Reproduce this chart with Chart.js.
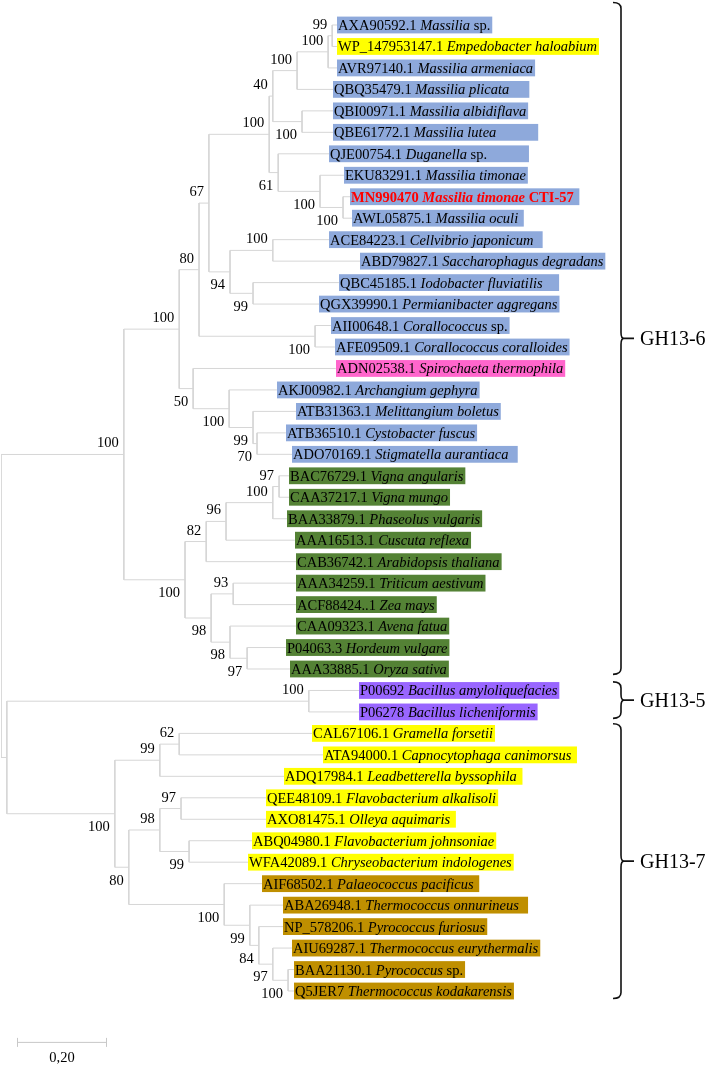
<!DOCTYPE html>
<html><head><meta charset="utf-8">
<script src="https://cdn.jsdelivr.net/npm/chart.js@4.4.1/dist/chart.umd.min.js"></script>
<style>html,body{margin:0;padding:0;background:#fff;}#wrap{width:710px;height:1067px;position:relative;}</style>
</head><body><div id="wrap"><canvas id="c"></canvas></div>
<script>
// ---------- DATA ----------
const leafIds = ["AXA90592.1","WP_147953147.1","AVR97140.1","QBQ35479.1","QBI00971.1","QBE61772.1","QJE00754.1","EKU83291.1","MN990470","AWL05875.1","ACE84223.1","ABD79827.1","QBC45185.1","QGX39990.1","AII00648.1","AFE09509.1","ADN02538.1","AKJ00982.1","ATB31363.1","ATB36510.1","ADO70169.1","BAC76729.1","CAA37217.1","BAA33879.1","AAA16513.1","CAB36742.1","AAA34259.1","ACF88424..1","CAA09323.1","P04063.3","AAA33885.1","P00692","P06278","CAL67106.1","ATA94000.1","ADQ17984.1","QEE48109.1","AXO81475.1","ABQ04980.1","WFA42089.1","AIF68502.1","ABA26948.1","NP_578206.1","AIU69287.1","BAA21130.1","Q5JER7"];
// species names (highlighted text in the source includes some trailing spaces)
const leafSpecies = ["Massilia","Empedobacter haloabium","Massilia armeniaca","Massilia plicata     ","Massilia albidiflava","Massilia lutea           ","Duganella","Massilia timonae","Massilia timonae","Massilia oculi ","Cellvibrio japonicum  ","Saccharophagus degradans","Iodobacter fluviatilis    ","Permianibacter aggregans","Corallococcus","Corallococcus coralloides","Spirochaeta thermophila","Archangium gephyra","Melittangium boletus","Cystobacter fuscus","Stigmatella aurantiaca  ","Vigna angularis","Vigna mungo","Phaseolus vulgaris","Cuscuta reflexa","Arabidopsis thaliana","Triticum aestivum","Zea mays","Avena fatua","Hordeum vulgare","Oryza sativa","Bacillus amyloliquefacies","Bacillus licheniformis","Gramella forsetii","Capnocytophaga canimorsus ","Leadbetterella byssophila ","Flavobacterium alkalisoli","Olleya aquimaris ","Flavobacterium johnsoniae","Chryseobacterium indologenes","Palaeococcus pacificus ","Thermococcus onnurineus  ","Pyrococcus furiosus","Thermococcus eurythermalis","Pyrococcus","Thermococcus kodakarensis"];
const leafSuffix = ["sp.","","","","","","sp.           ","","CTI-57 ","","","","","","sp.","","","","","","","","","","","","","","","","","","","","","","","","","","","","","","sp.",""];
const leafGroup = [0,1,0,0,0,0,0,0,0,0,0,0,0,0,0,0,2,0,0,0,0,3,3,3,3,3,3,3,3,3,3,4,4,1,1,1,1,1,1,1,5,5,5,5,5,5];
const focusLeaf = 8;
// tip positions (cumulative branch length from root)
const leafDepth = [0.747,0.747,0.747,0.738,0.738,0.738,0.729,0.762,0.776,0.780,0.729,0.798,0.751,0.707,0.733,0.742,0.744,0.613,0.656,0.633,0.647,0.640,0.640,0.636,0.653,0.656,0.656,0.656,0.656,0.633,0.642,0.796,0.796,0.691,0.716,0.629,0.589,0.589,0.558,0.549,0.580,0.627,0.627,0.647,0.651,0.651];
// internal nodes: children, depth, bootstrap support
const nodeKids = [["L0","L1"],["N0","L2"],["N1","L3"],["L4","L5"],["N2","N3"],["L8","L9"],["L7","N5"],["L6","N6"],["N4","N7"],["L10","L11"],["L12","L13"],["N9","N10"],["N8","N11"],["L14","L15"],["N12","N13"],["L19","L20"],["L18","N15"],["L17","N16"],["L16","N17"],["N14","N18"],["L21","L22"],["N20","L23"],["N21","L24"],["N22","L25"],["L26","L27"],["L29","L30"],["L28","N25"],["N24","N26"],["N23","N27"],["N19","N28"],["L31","L32"],["L33","L34"],["N31","L35"],["L36","L37"],["L38","L39"],["N33","N34"],["L44","L45"],["L43","N36"],["L42","N37"],["L41","N38"],["L40","N39"],["N35","N40"],["N32","N41"],["N30","N42"],["N29","N43"]];
const nodeDepth = [0.736,0.727,0.658,0.669,0.604,0.760,0.709,0.616,0.596,0.604,0.560,0.509,0.462,0.698,0.440,0.569,0.560,0.507,0.427,0.396,0.618,0.604,0.500,0.456,0.516,0.547,0.509,0.467,0.409,0.273,0.684,0.396,0.353,0.400,0.418,0.353,0.638,0.604,0.573,0.553,0.496,0.284,0.253,0.013,0.000];
const nodeSupport = [99,100,100,100,40,100,100,61,100,100,99,94,67,100,80,70,99,100,50,100,97,100,96,82,93,97,98,98,100,100,100,62,99,97,99,98,100,97,84,99,100,80,100,null,null];
const cladeNames = ["GH13-6","GH13-5","GH13-7"];
const cladeFrom = [-1.05, 30.6, 32.55];
const cladeTo = [30.25, 32.3, 45.35];
const scaleBarLength = 0.20;
const scaleBarLabel = "0,20";

// ---------- STYLE ----------
const groupColors = ["#8EA9DB","#FFFF00","#FF66CC","#548235","#9966FF","#BF8F00"];
const FF = "'Liberation Serif','Times New Roman',serif";
const FS = 14.5;
const lineColor = "#d6d6d6";

// ---------- BUILD TREE ----------
function ref(s){ return {t:s[0], i:+s.slice(1)}; }
const nodeY = new Array(nodeKids.length);
function getY(r){ return r.t==='L' ? r.i : nodeY[r.i]; }
function getX(r){ return r.t==='L' ? leafDepth[r.i] : nodeDepth[r.i]; }
for (let k=0;k<nodeKids.length;k++){
  const a=ref(nodeKids[k][0]), b=ref(nodeKids[k][1]);
  nodeY[k]=(getY(a)+getY(b))/2;
}
const nodeIsLower = new Array(nodeKids.length).fill(false);
nodeKids.forEach(kids=>{ const b=ref(kids[1]); if(b.t==='N') nodeIsLower[b.i]=true; });

const datasets = nodeKids.map((kids,k)=>{
  const a=ref(kids[0]), b=ref(kids[1]);
  return {
    data:[{x:getX(a),y:getY(a)},{x:nodeDepth[k],y:getY(a)},{x:nodeDepth[k],y:getY(b)},{x:getX(b),y:getY(b)}],
    showLine:true, borderColor:lineColor, borderWidth:1, pointRadius:0, fill:false, tension:0
  };
});

const treePlugin = {
  id:'treeLabels',
  afterDatasetsDraw(chart){
    const {ctx, scales:{x,y}, chartArea} = chart;
    ctx.save();
    for (let i=0;i<leafIds.length;i++){
      const px = Math.round(x.getPixelForValue(leafDepth[i]));
      const py = y.getPixelForValue(i);
      const b = i===focusLeaf ? 'bold ' : '';
      const parts = [[leafIds[i]+' ', b+FS+'px '+FF],[leafSpecies[i], 'italic '+b+FS+'px '+FF]];
      if (leafSuffix[i]) parts.push([' '+leafSuffix[i], b+FS+'px '+FF]);
      let w=0; parts.forEach(p=>{ctx.font=p[1]; p.push(ctx.measureText(p[0]).width); w+=p[2];});
      ctx.fillStyle = groupColors[leafGroup[i]];
      ctx.fillRect(px, py-8.4, w+3, 16.8);
      ctx.fillStyle = i===focusLeaf ? '#ff0000' : '#000';
      ctx.textBaseline='alphabetic'; ctx.textAlign='left';
      let cx = px+1;
      parts.forEach(p=>{ctx.font=p[1]; ctx.fillText(p[0], cx, py+5); cx+=p[2];});
    }
    ctx.font = FS+'px '+FF; ctx.fillStyle='#000'; ctx.textAlign='right';
    for (let k=0;k<nodeKids.length;k++){
      if (nodeSupport[k]==null) continue;
      const px = x.getPixelForValue(nodeDepth[k]);
      const py = y.getPixelForValue(nodeY[k]) + (nodeIsLower[k] ? 12.5 : -11.8);
      ctx.fillText(String(nodeSupport[k]), px-5, py+4.8);
    }
    ctx.strokeStyle='#111'; ctx.lineWidth=1.6; ctx.fillStyle='#000';
    const xb = chartArea.left + 620;
    for (let c=0;c<cladeNames.length;c++){
      const top=y.getPixelForValue(cladeFrom[c]), bot=y.getPixelForValue(cladeTo[c]), mid=(top+bot)/2;
      const r = Math.min(6,(bot-top)/6);
      ctx.beginPath();
      ctx.moveTo(xb-8, top);
      ctx.quadraticCurveTo(xb, top, xb, top+r);
      ctx.lineTo(xb, mid-r);
      ctx.quadraticCurveTo(xb, mid, xb+3, mid);
      ctx.quadraticCurveTo(xb, mid, xb, mid+r);
      ctx.lineTo(xb, bot-r);
      ctx.quadraticCurveTo(xb, bot, xb-8, bot);
      ctx.moveTo(xb+2, mid); ctx.lineTo(xb+13, mid);
      ctx.stroke();
      ctx.font='20px '+FF; ctx.textAlign='left'; ctx.textBaseline='alphabetic';
      ctx.fillText(cladeNames[c], xb+19, mid+7);
    }
    const sx0 = chartArea.left + 16, sx1 = sx0 + (x.getPixelForValue(scaleBarLength)-x.getPixelForValue(0));
    const sy = chartArea.bottom - 13.5;
    ctx.strokeStyle = '#c8c8c8'; ctx.lineWidth=1;
    ctx.beginPath();
    ctx.moveTo(sx0, sy+0.5); ctx.lineTo(sx1, sy+0.5);
    ctx.moveTo(sx0+0.5, sy-4); ctx.lineTo(sx0+0.5, sy+5);
    ctx.moveTo(sx1-0.5, sy-4); ctx.lineTo(sx1-0.5, sy+5);
    ctx.stroke();
    ctx.font = FS+'px '+FF; ctx.fillStyle='#000'; ctx.textAlign='center';
    ctx.fillText(scaleBarLabel, (sx0+sx1)/2, sy+20);
    ctx.restore();
  }
};

new Chart(document.getElementById('c'), {
  type:'scatter',
  data:{datasets},
  options:{
    responsive:true, maintainAspectRatio:false, animation:false,
    layout:{padding:{left:1,right:34,top:3.53,bottom:11.6}},
    scales:{
      x:{type:'linear',min:0,max:1.5,display:false},
      y:{type:'linear',min:-1,max:48,reverse:true,display:false}
    },
    plugins:{legend:{display:false},tooltip:{enabled:false}},
    events:[]
  },
  plugins:[treePlugin]
});
</script></body></html>
